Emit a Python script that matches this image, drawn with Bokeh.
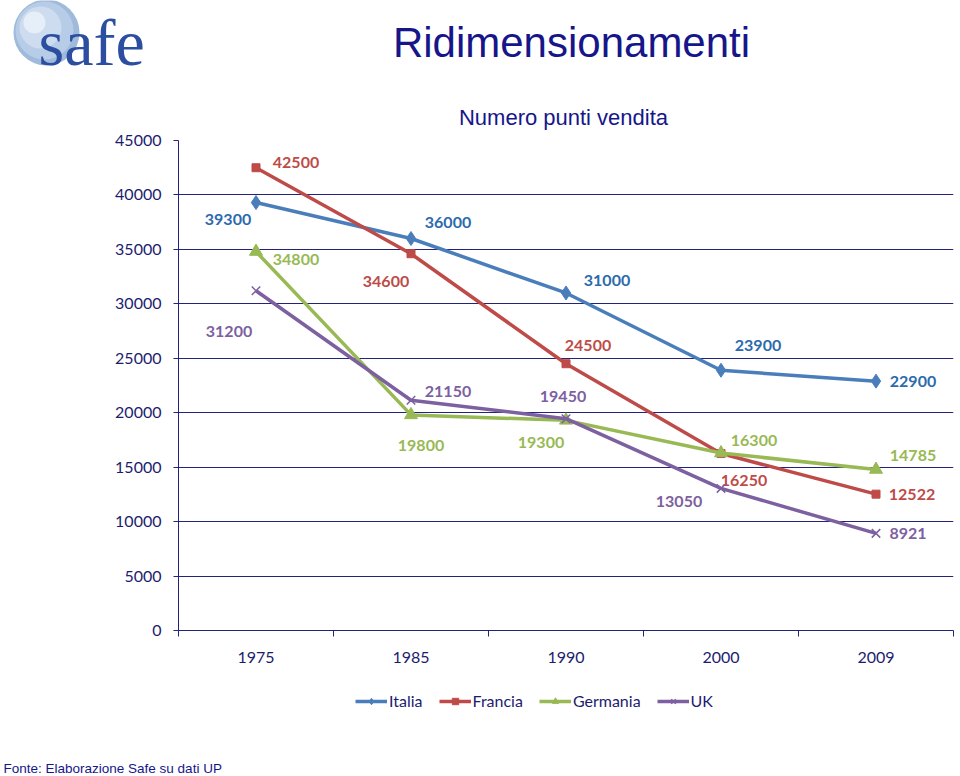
from bokeh.plotting import figure
from bokeh.layouts import column
from bokeh.models import (Legend, LegendItem, FixedTicker, Range1d,
                          ColumnDataSource)
from bokeh.core.properties import value
from bokeh.embed import file_html
from bokeh.resources import INLINE

# ---------------- data ----------------
years = ["1975", "1985", "1990", "2000", "2009"]
italia = [39300, 36000, 31000, 23900, 22900]
francia = [42500, 34600, 24500, 16250, 12522]
germania = [34800, 19800, 19300, 16300, 14785]
uk = [31200, 21150, 19450, 13050, 8921]
y_ticks = [0, 5000, 10000, 15000, 20000, 25000, 30000, 35000, 40000, 45000]

title_text = "Ridimensionamenti"
subtitle_text = "Numero punti vendita"
footer_text = "Fonte: Elaborazione Safe su dati UP"
logo_text = "safe"

# ---------------- style ----------------
NAVY = "#1c1c6e"
GRID = "#23237d"
TITLE_C = "#16168a"
NUMFONT = "Lato"
series = [
    # name, values, line colour, label colour, marker, size, label offsets (px)
    ("Italia", italia, "#4A7EBB", "#2C6AAE", "diamond", 14,
     [(-28, 17), (37, -16), (41, -12), (37, -25), (37, 0)]),
    ("Francia", francia, "#BE4B48", "#BE4B48", "square", 8,
     [(40, -5), (-25, 28), (22, -18), (23, 27), (36, 0)]),
    ("Germania", germania, "#98B954", "#98B954", "triangle", 13,
     [(40, 8), (10, 31), (-25, 22), (33, -13), (37, -14)]),
    ("UK", uk, "#7D60A0", "#7D60A0", "x", 12,
     [(-27, 41), (37, -9), (-3, -22), (-42, 13), (32, 0)]),
]

W, H = 960, 776
HEAD_H = 131
FOOT_TOP = 680
FL, FR, FT, FB = 178, 953, 140, 630
YMAX = 45000
NX = len(years)


def blank_fig(h):
    f = figure(width=W, height=h, output_backend="svg", toolbar_location=None,
               x_range=Range1d(0, W), y_range=Range1d(h, 0), min_border=0)
    f.frame_align = False
    f.axis.visible = False
    f.grid.visible = False
    f.outline_line_color = None
    f.background_fill_color = "white"
    f.border_fill_color = "white"
    return f


# ---------------- header (logo + titles) ----------------
hd = blank_fig(HEAD_H)
hd.circle(x=[46, 44, 40, 34], y=[32, 30, 27, 22], radius=[33, 29, 21, 11],
          fill_color=["#9fbadb", "#b7cde7", "#cddcef", "#e6eef8"],
          line_color=None)
hd.text(x=[38], y=[42], text=[logo_text], text_align="left",
        text_baseline="middle", text_font=value("Liberation Serif"),
        text_font_size="66px", text_color="#2b4ea0")
hd.text(x=[571], y=[42], text=[title_text], text_align="center",
        text_baseline="middle", text_font=value("Liberation Sans"),
        text_font_size="42px", text_color=TITLE_C)
hd.text(x=[563], y=[117], text=[subtitle_text], text_align="center",
        text_baseline="middle", text_font=value("Liberation Sans"),
        text_font_size="22px", text_color=TITLE_C)

# ---------------- main chart ----------------
MH = FOOT_TOP - HEAD_H
p = figure(width=W, height=MH, output_backend="svg", toolbar_location=None,
           x_range=Range1d(0, NX), y_range=Range1d(0, YMAX),
           min_border_left=FL, min_border_right=W - FR,
           min_border_top=FT - HEAD_H, min_border_bottom=FOOT_TOP - FB)
p.frame_align = False
p.outline_line_color = None
p.background_fill_color = "white"
p.border_fill_color = "white"

xs_pos = [i + 0.5 for i in range(NX)]
p.xaxis.ticker = FixedTicker(ticks=xs_pos, minor_ticks=list(range(NX + 1)))
p.xaxis.major_label_overrides = {x: y for x, y in zip(xs_pos, years)}
p.xaxis.major_tick_out = 0
p.xaxis.major_tick_in = 0
p.xaxis.minor_tick_out = 6
p.xaxis.minor_tick_in = 0
p.xaxis.minor_tick_line_color = GRID
p.xaxis.axis_line_color = GRID
p.xaxis.major_label_text_font = NUMFONT
p.xaxis.major_label_text_font_size = "16px"
p.xaxis.major_label_text_color = NAVY
p.xaxis.major_label_standoff = 15

p.yaxis.ticker = FixedTicker(ticks=y_ticks, minor_ticks=[])
p.yaxis.major_tick_out = 5
p.yaxis.major_tick_in = 0
p.yaxis.major_tick_line_color = GRID
p.yaxis.axis_line_color = GRID
p.yaxis.minor_tick_line_color = None
p.yaxis.major_label_text_font = NUMFONT
p.yaxis.major_label_text_font_size = "16px"
p.yaxis.major_label_text_color = NAVY
p.yaxis.major_label_standoff = 12

p.xgrid.grid_line_color = None
p.ygrid.ticker = FixedTicker(ticks=y_ticks[1:])
p.ygrid.grid_line_color = GRID
p.ygrid.grid_line_width = 1

# ---------------- footer (legend + source) ----------------
FH = H - FOOT_TOP
ft = blank_fig(FH)

legend_items = []
for name, vals, lc, tc, marker, size, offs in series:
    src = ColumnDataSource(dict(
        x=xs_pos, y=vals, t=[str(v) for v in vals],
        dx=[o[0] for o in offs], dy=[o[1] for o in offs]))
    p.line("x", "y", source=src, line_color=lc, line_width=3.5)
    mk = dict(marker=marker, size=size, line_color=lc)
    if marker == "x":
        mk["line_width"] = 1.5
    else:
        mk["fill_color"] = lc
    p.scatter("x", "y", source=src, **mk)
    p.text("x", "y", text="t", source=src, x_offset="dx", y_offset="dy",
           text_align="center", text_baseline="middle",
           text_font=value(NUMFONT), text_font_size="16px",
           text_font_style="bold", text_color=tc)
    # legend proxies: same series, drawn in the footer panel whose y range
    # (0..FH) keeps them out of sight, so only the legend shows them
    l1 = ft.line("x", "y", source=src, line_color=lc, line_width=3.5)
    mk2 = dict(mk)
    mk2["size"] = size * 0.85
    l2 = ft.scatter("x", "y", source=src, **mk2)
    legend_items.append(LegendItem(label=name, renderers=[l1, l2]))

legend = Legend(items=legend_items, orientation="horizontal",
                location=(355, FH - 30),
                border_line_color=None, background_fill_alpha=0,
                glyph_width=32, glyph_height=16, label_standoff=2,
                spacing=16, padding=2, margin=0,
                label_text_font=NUMFONT, label_text_font_size="16px",
                label_text_color=NAVY)
ft.add_layout(legend, "center")

ft.text(x=[3], y=[768 - FOOT_TOP], text=[footer_text], text_align="left",
        text_baseline="middle", text_font=value("Liberation Sans"),
        text_font_size="13.5px", text_color=TITLE_C)

layout = column(hd, p, ft, spacing=0)
open("out.html", "w").write(file_html(layout, INLINE))
